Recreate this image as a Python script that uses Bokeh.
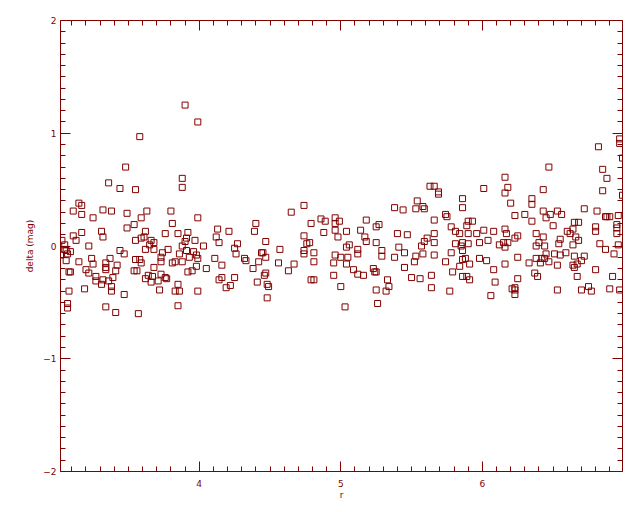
from bokeh.plotting import figure
from bokeh.models import LinearAxis, Range1d, SingleIntervalTicker, FixedTicker
from bokeh.embed import file_html
from bokeh.resources import INLINE

MAROON = "#800000"
FONT = "DejaVu Sans"

# r values (x) and delta (mag) values (y)
r_low = [3.58, 3.48, 3.36, 3.44, 3.55, 3.15, 3.17, 3.11, 3.17, 3.32, 3.38, 3.25, 3.49, 3.63, 3.59, 3.54,
         3.49, 3.62, 3.17, 3.31, 3.32, 3.11, 3.13, 3.03, 3.22, 3.55, 3.59, 3.61, 3.66, 3.65, 3.62, 3.44,
         3.47, 3.05, 3.05, 3.06, 3.09, 3.07, 3.02, 3.06, 3.15, 3.24, 3.25, 3.37, 3.34, 3.42, 3.34, 3.34,
         3.41, 3.20, 3.22, 3.08, 3.09, 3.27, 3.27, 3.32, 3.31, 3.36, 3.39, 3.38, 3.38, 3.55, 3.58, 3.59,
         3.54, 3.56, 3.64, 3.62, 3.66, 3.68, 3.67, 3.19, 3.08, 3.47, 3.07, 3.07, 3.34, 3.41, 3.57,
         3.90, 3.99, 3.88, 3.88, 3.80, 3.99, 3.81, 3.76, 3.85, 3.92, 4.13, 4.21, 4.12, 4.14, 3.97, 3.91,
         3.90, 3.88, 4.03, 3.91, 3.96, 3.98, 3.99, 3.93, 3.88, 3.86, 3.83, 3.81, 3.78, 3.74, 3.73, 3.73,
         3.68, 3.68, 3.73, 3.71, 3.76, 3.77, 3.72, 3.85, 3.83, 3.86, 3.99, 3.85, 3.92, 3.95, 3.98, 4.05,
         4.11, 4.16, 4.25, 4.27, 4.26, 4.32, 4.33, 4.16, 4.14, 4.25, 4.22, 4.19]
delta_low = [0.97, 0.70, 0.56, 0.51, 0.50, 0.38, 0.36, 0.31, 0.28, 0.32, 0.31, 0.25, 0.29, 0.31, 0.25, 0.19,
             0.16, 0.13, 0.12, 0.13, 0.08, 0.09, 0.05, 0.05, 0.00, 0.05, 0.07, 0.08, 0.05, 0.01, -0.03, -0.04,
             -0.07, 0.01, -0.03, -0.04, -0.05, -0.07, -0.08, -0.13, -0.14, -0.11, -0.16, -0.11, -0.15, -0.17, -0.19, -0.21,
             -0.22, -0.21, -0.24, -0.23, -0.23, -0.27, -0.31, -0.30, -0.34, -0.31, -0.28, -0.36, -0.40, -0.12, -0.12, -0.15,
             -0.22, -0.22, -0.26, -0.29, -0.32, -0.19, -0.27, -0.38, -0.40, -0.43, -0.51, -0.55, -0.54, -0.59, -0.60,
             1.25, 1.10, 0.60, 0.52, 0.31, 0.25, 0.20, 0.11, 0.11, 0.12, 0.15, 0.13, 0.08, 0.03, 0.05, 0.07,
             0.04, 0.00, 0.00, -0.04, -0.05, -0.08, -0.11, -0.10, -0.14, -0.07, -0.14, -0.15, -0.03, -0.06, -0.10, -0.14,
             0.03, -0.03, -0.25, -0.31, -0.28, -0.29, -0.39, -0.34, -0.40, -0.40, -0.40, -0.53, -0.23, -0.22, -0.18, -0.20,
             -0.11, -0.17, -0.02, 0.02, -0.07, -0.11, -0.13, -0.28, -0.30, -0.28, -0.35, -0.37]

r_mid = [4.74, 4.65, 4.40, 4.39, 4.79, 4.86, 4.89, 4.96, 4.96, 4.99, 4.96, 4.88, 4.98, 4.74, 4.78, 4.76,
         4.74, 4.74, 4.81, 4.81, 4.47, 4.57, 4.44, 4.45, 4.47, 4.42, 4.38, 4.56, 4.67, 4.63, 4.47, 4.46,
         4.41, 4.48, 4.49, 4.48, 4.79, 4.81, 4.95, 4.96, 4.95, 5.00, 5.00,
         5.63, 5.66, 5.54, 5.53, 5.58, 5.59, 5.38, 5.44, 5.18, 5.27, 5.25, 5.14, 5.04, 5.17, 5.18, 5.06,
         5.04, 5.12, 5.12, 5.40, 5.47, 5.25, 5.29, 5.29, 5.41, 5.45, 5.38, 5.61, 5.59, 5.57, 5.66, 5.66,
         5.66, 5.53, 5.58, 5.52, 5.66, 5.05, 5.04, 5.09, 5.12, 5.16, 5.23, 5.24, 5.25, 5.45, 5.33, 5.34,
         5.32, 5.25, 5.50, 5.56, 5.64, 5.64, 5.26, 5.03]
delta_mid = [0.36, 0.30, 0.20, 0.13, 0.20, 0.24, 0.22, 0.25, 0.20, 0.22, 0.14, 0.12, 0.08, 0.09, 0.03, 0.02,
             -0.04, -0.07, -0.06, -0.14, 0.04, -0.03, -0.06, -0.06, -0.10, -0.14, -0.20, -0.15, -0.16, -0.22, -0.24, -0.26,
             -0.32, -0.34, -0.36, -0.46, -0.30, -0.30, -0.15, -0.08, -0.26, -0.10, -0.36,
             0.53, 0.53, 0.40, 0.33, 0.35, 0.33, 0.34, 0.32, 0.23, 0.19, 0.17, 0.14, 0.13, 0.08, 0.04, 0.01,
             -0.01, -0.03, -0.07, 0.11, 0.10, 0.03, -0.04, -0.09, -0.01, -0.06, -0.10, 0.07, 0.04, 0.00, 0.11, 0.03,
             0.23, -0.09, -0.07, -0.14, -0.08, -0.10, -0.16, -0.21, -0.25, -0.26, -0.20, -0.23, -0.23, -0.19, -0.30, -0.36,
             -0.40, -0.39, -0.28, -0.29, -0.26, -0.37, -0.51, -0.54]

r_high = [6.16, 6.18, 6.16, 6.20, 6.01, 5.69, 5.69, 5.86, 5.86, 6.23, 6.30, 5.74, 5.75, 5.90, 5.93, 5.89,
          5.78, 5.81, 5.84, 5.90, 5.96, 6.01, 6.08, 6.16, 6.17, 6.25, 6.23, 6.18, 6.15, 6.16, 6.12, 6.04,
          5.98, 5.90, 5.86, 5.85, 5.86, 5.81, 5.78, 5.74, 5.84, 5.86, 5.88, 5.91, 5.98, 6.03, 6.08, 6.16,
          6.25, 6.33, 5.79, 5.77, 5.86, 5.89, 5.91, 6.09, 6.06, 6.25, 6.21, 6.23, 6.23, 6.23,
          6.97, 6.97, 6.82, 6.99, 6.47, 6.85, 6.88, 6.85, 6.99, 6.43, 6.35, 6.35, 6.35, 6.43, 6.45, 6.48,
          6.53, 6.56, 6.72, 6.81, 6.87, 6.88, 6.90, 6.96, 6.50, 6.65, 6.68, 6.64, 6.60, 6.62, 6.80, 6.80,
          6.95, 6.95, 6.95, 6.38, 6.43, 6.40, 6.38, 6.44, 6.55, 6.54, 6.66, 6.68, 6.64, 6.83, 6.87, 6.96,
          6.93, 6.45, 6.51, 6.55, 6.59, 6.65, 6.72, 6.70, 6.67, 6.64, 6.65, 6.38, 6.42, 6.44, 6.41, 6.47,
          6.53, 6.80, 6.67, 6.92, 6.37, 6.39, 6.53, 6.70, 6.75, 6.77, 6.90, 6.97]
delta_high = [0.61, 0.52, 0.47, 0.38, 0.51, 0.48, 0.46, 0.42, 0.34, 0.27, 0.28, 0.28, 0.26, 0.22, 0.22, 0.18,
              0.17, 0.13, 0.11, 0.11, 0.11, 0.14, 0.13, 0.15, 0.11, 0.09, 0.07, 0.03, 0.03, -0.01, 0.01, 0.05,
              0.03, 0.02, 0.03, 0.00, -0.04, 0.02, -0.06, -0.14, -0.18, -0.12, -0.11, -0.16, -0.11, -0.13, -0.21, -0.16,
              -0.10, -0.15, -0.23, -0.40, -0.27, -0.27, -0.30, -0.32, -0.44, -0.29, -0.38, -0.37, -0.39, -0.43,
              0.95, 0.91, 0.88, 0.78, 0.70, 0.68, 0.60, 0.49, 0.45, 0.50, 0.42, 0.37, 0.22, 0.31, 0.25, 0.28,
              0.31, 0.28, 0.33, 0.31, 0.26, 0.26, 0.26, 0.27, 0.18, 0.21, 0.21, 0.15, 0.13, 0.11, 0.17, 0.13,
              0.19, 0.16, 0.11, 0.11, 0.08, 0.03, 0.00, 0.00, 0.06, 0.02, 0.08, 0.05, 0.01, 0.02, -0.03, 0.01,
              -0.07, -0.07, -0.07, -0.08, -0.06, -0.09, -0.09, -0.13, -0.16, -0.17, -0.19, -0.11, -0.11, -0.11, -0.15, -0.14,
              -0.17, -0.21, -0.27, -0.27, -0.24, -0.27, -0.39, -0.39, -0.36, -0.40, -0.38, -0.39]

r_all = r_low + r_mid + r_high
delta_all = delta_low + delta_mid + delta_high

x_start, x_end = 3.02, 6.99
y_start, y_end = -2.0, 2.0
x_major = [3, 4, 5, 6, 7]
y_major = [-2, -1, 0, 1, 2]
x_minor = [round(3 + 0.1 * i, 1) for i in range(41) if i % 10 != 0]
y_minor = [round(-2 + 0.1 * i, 1) for i in range(41) if i % 10 != 0]

p = figure(frame_width=562, frame_height=451,
           x_range=Range1d(x_start, x_end), y_range=Range1d(y_start, y_end),
           output_backend="svg", toolbar_location=None,
           min_border_left=60, min_border_top=20, min_border_right=18, min_border_bottom=41,
           background_fill_color="white", border_fill_color="white",
           outline_line_color=None)
p.grid.visible = False


def base_style(ax):
    ax.axis_line_color = MAROON
    ax.axis_line_width = 1
    ax.major_tick_line_color = MAROON
    ax.minor_tick_line_color = MAROON
    ax.major_tick_out = 0
    ax.minor_tick_out = 0


def style_main(ax):
    base_style(ax)
    ax.ticker = SingleIntervalTicker(interval=1, num_minor_ticks=10)
    ax.major_tick_in = 10
    ax.minor_tick_in = 5
    ax.major_label_text_color = MAROON
    ax.major_label_text_font = FONT
    ax.major_label_text_font_size = "9px"
    ax.axis_label_text_color = MAROON
    ax.axis_label_text_font = FONT
    ax.axis_label_text_font_size = "9px"
    ax.axis_label_text_font_style = "normal"


style_main(p.xaxis[0])
style_main(p.yaxis[0])
p.xaxis[0].axis_label = "r"
p.xaxis[0].major_label_standoff = 8
p.xaxis[0].axis_label_standoff = 0
p.yaxis[0].axis_label = "delta (mag)"
p.yaxis[0].major_label_standoff = 4
p.yaxis[0].axis_label_standoff = 5


def mirror_axes(side, major, minor):
    # short ticks at every 0.1 and the axis line
    a = LinearAxis(ticker=FixedTicker(ticks=[], minor_ticks=minor))
    base_style(a)
    a.minor_tick_in = 5
    a.major_label_standoff = 0
    p.add_layout(a, side)
    # long ticks at the whole units
    b = LinearAxis(ticker=FixedTicker(ticks=[], minor_ticks=major))
    base_style(b)
    b.axis_line_color = None
    b.minor_tick_in = 10
    b.major_label_standoff = 0
    p.add_layout(b, side)


mirror_axes("above", x_major, x_minor)
mirror_axes("right", y_major, y_minor)

p.scatter(r_all, delta_all, marker="square", size=6,
          fill_color=None, line_color=MAROON, line_width=1)

open("out.html", "w").write(file_html(p, INLINE))
